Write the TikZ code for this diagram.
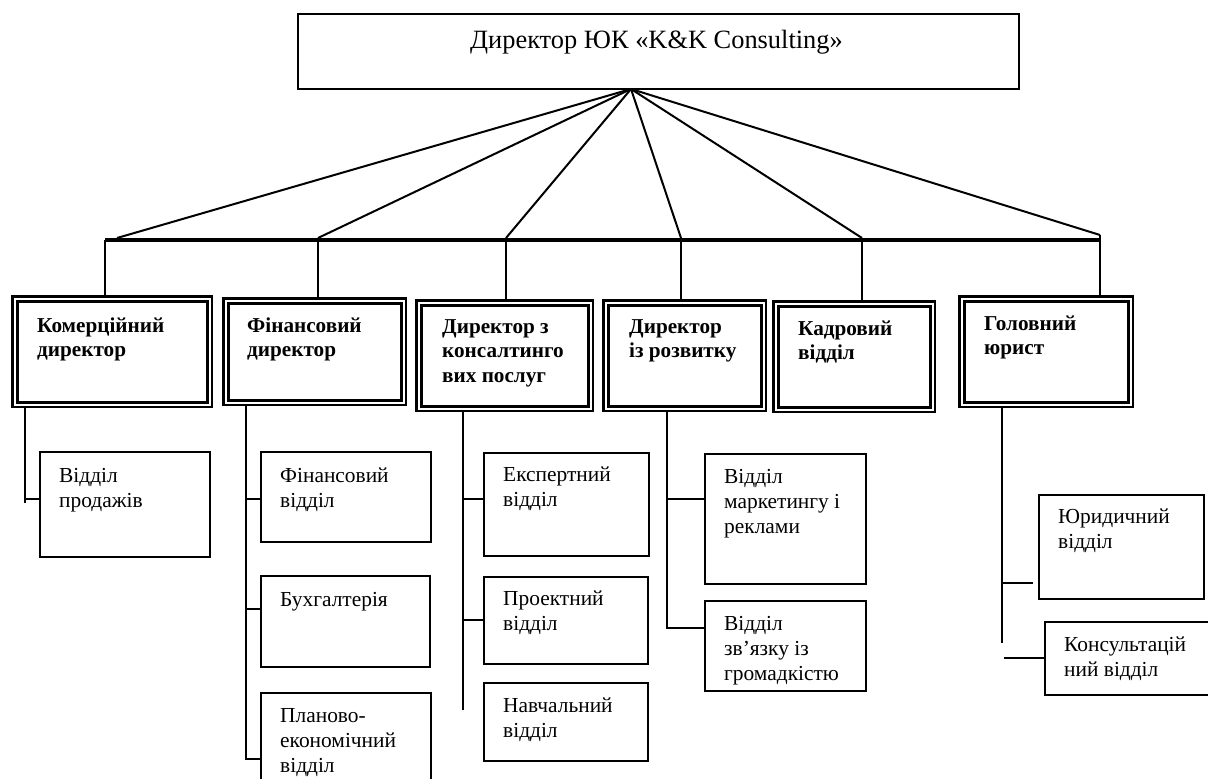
\documentclass[tikz,border=0pt]{standalone}
\usepackage{fontspec}
\setmainfont{Liberation Serif}
\newcommand\tl[1]{\begin{tabular}[t]{@{}l@{}}#1\end{tabular}}
\tikzset{
  topbox/.style={draw, line width=2pt, inner sep=0pt},
  dbox/.style={draw, line width=2.6pt, double, double distance=2pt, inner sep=0pt},
  sbox/.style={draw, line width=2pt, inner sep=0pt},
  conn/.style={line width=2pt},
  bus/.style={line width=3.5pt},
  txt/.style={anchor=base west, inner sep=0pt},
  bigf/.style={font=\fontsize{26.4}{30}\selectfont},
  boldf/.style={font=\fontsize{21.2}{24.5}\selectfont\bfseries},
  regf/.style={font=\fontsize{21.4}{25}\selectfont},
}
% box with outer corners (x1,y1)-(x2,y2)
\newcommand\sbx[6]{\node[#2, anchor=north west, minimum width={(#5-#3-2)*1pt}, minimum height={(#6-#4-2)*1pt}] (#1) at (#3+1,#4+1) {};}
\newcommand\dbx[5]{\node[dbox, anchor=north west, minimum width={(#4-#2-7.2)*1pt}, minimum height={(#5-#3-7.2)*1pt}] (#1) at (#2+3.6,#3+3.6) {};}
\newcommand\tx[5]{\node[txt, #2] (#1) at (#3,#4) {\tl{#5}};}
\begin{document}
\begin{tikzpicture}[x=1pt, y=-1pt]
\useasboundingbox (0,0) rectangle (1208,779);
\clip (0,0) rectangle (1208,779);
% top box
\sbx{top}{topbox}{296}{12}{1019}{89}
\tx{ttop}{bigf}{470}{48}{Директор ЮК «K\&K Consulting»}
% second row
\dbx{B1}{10}{294}{212}{407}
\dbx{B2}{221}{296}{406}{405}
\dbx{B3}{414}{298}{593}{411}
\dbx{B4}{601}{298}{766}{411}
\dbx{B5}{771}{299}{935}{412}
\dbx{B6}{957}{294}{1133}{407}
\tx{tB1}{boldf}{37}{332}{Комерційний\\директор}
\tx{tB2}{boldf}{247}{332}{Фінансовий\\директор}
\tx{tB3}{boldf}{442}{333}{Директор з\\консалтинго\\вих послуг}
\tx{tB4}{boldf}{629}{333}{Директор\\із розвитку}
\tx{tB5}{boldf}{798}{335}{Кадровий\\відділ}
\tx{tB6}{boldf}{984}{330}{Головний\\юрист}
% sub boxes
\sbx{S1}{sbox}{38}{450}{210}{557}
\sbx{F1}{sbox}{259}{450}{431}{542}
\sbx{F2}{sbox}{259}{574}{430}{667}
\sbx{F3}{sbox}{259}{691}{431}{800}
\sbx{C1}{sbox}{482}{451}{649}{556}
\sbx{C2}{sbox}{482}{575}{648}{664}
\sbx{C3}{sbox}{482}{681}{648}{761}
\sbx{D1}{sbox}{703}{452}{866}{584}
\sbx{D2}{sbox}{703}{599}{866}{691}
\sbx{L1}{sbox}{1037}{493}{1204}{599}
\sbx{L2}{sbox}{1043}{620}{1240}{695}
\tx{tS1}{regf}{59}{482}{Відділ\\продажів}
\tx{tF1}{regf}{280}{482}{Фінансовий\\відділ}
\tx{tF2}{regf}{280}{606}{Бухгалтерія}
\tx{tF3}{regf}{280}{722}{Планово-\\економічний\\відділ}
\tx{tC1}{regf}{503}{481}{Експертний\\відділ}
\tx{tC2}{regf}{503}{605}{Проектний\\відділ}
\tx{tC3}{regf}{503}{712}{Навчальний\\відділ}
\tx{tD1}{regf}{724}{483}{Відділ\\маркетингу і\\реклами}
\tx{tD2}{regf}{724}{630}{Відділ\\зв’язку із\\громадкістю}
\tx{tL1}{regf}{1058}{523}{Юридичний\\відділ}
\tx{tL2}{regf}{1064}{651}{Консультацій\\ний відділ}
% fan and bus
\coordinate (ap) at (631,89);
\coordinate (busL) at (105,240);
\coordinate (busR) at (1101,240);
\coordinate (j1) at (117,238);
\coordinate (j2) at (318,238);
\coordinate (j3) at (506,238);
\coordinate (j4) at (681,238);
\coordinate (j5) at (862,238);
\coordinate (j6) at (1100,235);
\draw[bus] (busL) -- (busR);
\foreach \j in {j1,j2,j3,j4,j5,j6} \draw[conn] (ap) -- (\j);
\draw[conn] (busL) -- (busL |- B1.north);
\draw[conn] (j2) -- (j2 |- B2.north);
\draw[conn] (j3) -- (j3 |- B3.north);
\draw[conn] (j4) -- (j4 |- B4.north);
\draw[conn] (j5) -- (j5 |- B5.north);
\draw[conn] (j6) -- (j6 |- B6.north);
% sub connectors: Комерційний
\coordinate (v1) at (25,503);
\coordinate (v1t) at (25,499);
\draw[conn] (B1.south -| v1) -- (v1);
\draw[conn] (v1t) -- (v1t -| S1.west);
% Фінансовий
\coordinate (v2) at (246,759);
\coordinate (v2a) at (246,499);
\coordinate (v2b) at (246,609);
\draw[conn] (B2.south -| v2) -- (v2) -- (v2 -| F3.west);
\draw[conn] (v2a) -- (v2a -| F1.west);
\draw[conn] (v2b) -- (v2b -| F2.west);
% Консалтинг
\coordinate (v3) at (463,710);
\coordinate (v3a) at (463,499);
\coordinate (v3b) at (463,620);
\draw[conn] (B3.south -| v3) -- (v3);
\draw[conn] (v3a) -- (v3a -| C1.west);
\draw[conn] (v3b) -- (v3b -| C2.west);
% Розвиток
\coordinate (v4) at (667,628);
\coordinate (v4a) at (667,499);
\coordinate (v4e) at (706,628);
\draw[conn] (B4.south -| v4) -- (v4) -- (v4e);
\draw[conn] (v4a) -- (v4a -| D1.west);
% Юрист
\coordinate (v6) at (1002,643);
\coordinate (v6a) at (1002,583);
\coordinate (v6ae) at (1033,583);
\coordinate (v6b) at (1004,658);
\draw[conn] (B6.south -| v6) -- (v6);
\draw[conn] (v6a) -- (v6ae);
\draw[conn] (v6b) -- (v6b -| L2.west);
\end{tikzpicture}
\end{document}
